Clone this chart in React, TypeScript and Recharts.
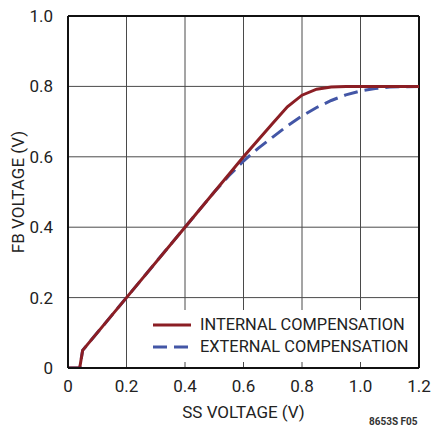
import { LineChart, Line, XAxis, YAxis, CartesianGrid, ReferenceLine } from 'recharts';

const xTicks = [0, 0.2, 0.4, 0.6, 0.8, 1.0, 1.2];
const yTicks = [0, 0.2, 0.4, 0.6, 0.8, 1.0];

const internalSS = [0, 0.04, 0.05, 0.2, 0.4, 0.6, 0.65, 0.7, 0.75, 0.8, 0.85, 0.9, 0.95, 1.0, 1.2];
const internalFB = [0, 0, 0.05, 0.2, 0.4, 0.6, 0.648, 0.695, 0.742, 0.775, 0.792, 0.798, 0.8, 0.8, 0.8];

const externalSS = [0, 0.04, 0.05, 0.2, 0.4, 0.5, 0.55, 0.6, 0.65, 0.7, 0.75, 0.8, 0.85, 0.9, 0.95, 1.0, 1.05, 1.1, 1.2];
const externalFB = [0, 0, 0.05, 0.2, 0.4, 0.5, 0.546, 0.588, 0.624, 0.656, 0.688, 0.716, 0.74, 0.76, 0.776, 0.787, 0.794, 0.798, 0.8];

const internal = internalSS.map((x, i) => ({ x, y: internalFB[i] }));
const external = externalSS.map((x, i) => ({ x, y: externalFB[i] }));

const FONT = 'Roboto, "Liberation Sans Narrow", Arial, sans-serif';
const RED = '#8b1e24';
const BLUE = '#4356a6';
const TEXT = '#222';

const fmt = (v: number) => (v === 0 ? '0' : v.toFixed(1));

function LegendBox() {
  const row = (color: string, dash: string | undefined, text: string) => (
    <div style={{ display: 'flex', alignItems: 'center', height: 22 }}>
      <svg width={46} height={10}>
        <line x1={4} y1={5} x2={42} y2={5} stroke={color} strokeWidth={3} strokeDasharray={dash} />
      </svg>
      <span style={{ marginLeft: 5 }}>{text}</span>
    </div>
  );
  return (
    <div style={{ position: 'absolute', left: 149, top: 310, width: 268, height: 52, background: '#fff', fontFamily: FONT, fontSize: 16.4, color: TEXT, paddingTop: 4, boxSizing: 'border-box', lineHeight: '22px' }}>
      {row(RED, undefined, 'INTERNAL COMPENSATION')}
      {row(BLUE, '14 7', 'EXTERNAL COMPENSATION')}
    </div>
  );
}

export default function App() {
  return (
    <div style={{ position: 'absolute', left: 0, top: 0, width: 432, height: 434, background: '#fff' }}>
      <LineChart width={432} height={434} margin={{ top: 16, right: 13, bottom: 16, left: 8 }}>
        <CartesianGrid stroke="#4a4a4a" strokeWidth={1} horizontalValues={yTicks} verticalValues={xTicks} />
        <XAxis
          type="number"
          dataKey="x"
          domain={[0, 1.2]}
          ticks={xTicks}
          tickFormatter={fmt}
          allowDataOverflow
          height={50}
          tickLine={false}
          tickMargin={6}
          axisLine={{ stroke: '#111', strokeWidth: 2 }}
          tick={{ fill: TEXT, fontSize: 17, fontFamily: FONT }}
          label={{ value: 'SS VOLTAGE (V)', position: 'insideBottom', offset: 0, fill: TEXT, fontSize: 17, fontFamily: FONT }}
        />
        <YAxis
          type="number"
          dataKey="y"
          domain={[0, 1]}
          ticks={yTicks}
          tickFormatter={fmt}
          allowDataOverflow
          width={60}
          tickLine={false}
          tickMargin={9}
          axisLine={{ stroke: '#111', strokeWidth: 2 }}
          tick={{ fill: TEXT, fontSize: 17, fontFamily: FONT }}
          label={{ value: 'FB VOLTAGE (V)', angle: -90, position: 'insideLeft', offset: 10, fill: TEXT, fontSize: 17, fontFamily: FONT, style: { textAnchor: 'middle' } }}
        />
        <ReferenceLine x={1.2} stroke="#111" strokeWidth={2} />
        <ReferenceLine y={1.0} stroke="#111" strokeWidth={2} />
        <Line data={external} dataKey="y" name="EXTERNAL COMPENSATION" type="linear" stroke={BLUE} strokeWidth={3} strokeDasharray="14 7" dot={false} isAnimationActive={false} />
        <Line data={internal} dataKey="y" name="INTERNAL COMPENSATION" type="linear" stroke={RED} strokeWidth={3} dot={false} isAnimationActive={false} />
      </LineChart>
      <LegendBox />
      <div style={{ position: 'absolute', left: 369, top: 416, fontFamily: FONT, fontSize: 10, fontWeight: 'bold', color: '#333' }}>8653S F05</div>
    </div>
  );
}
